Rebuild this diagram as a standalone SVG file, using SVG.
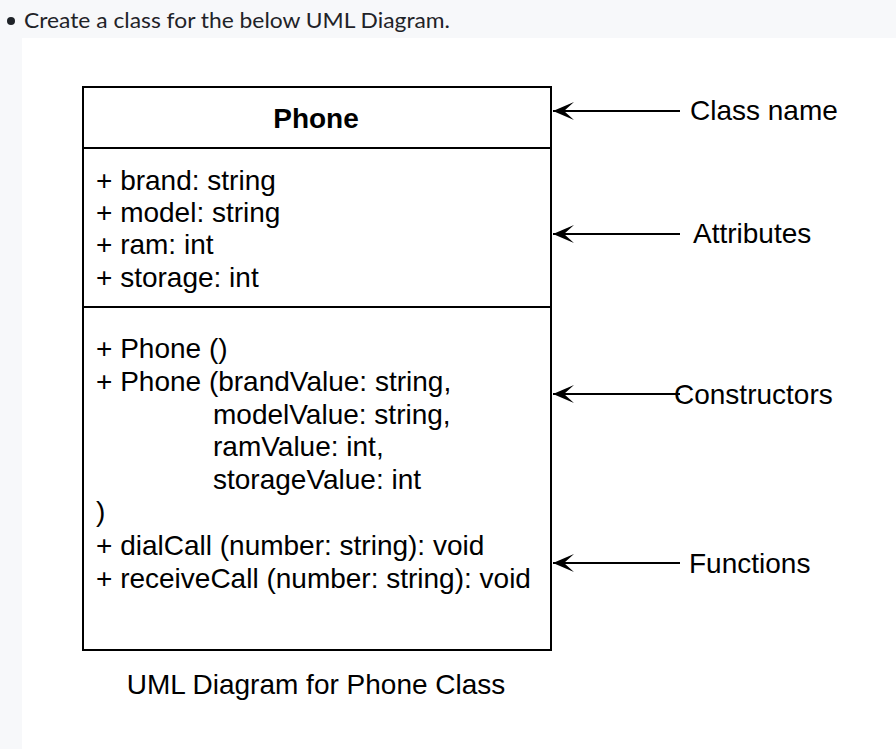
<svg xmlns="http://www.w3.org/2000/svg" width="896" height="749" viewBox="0 0 896 749">
<style>
.t{font-family:"Liberation Sans",Arial,sans-serif;font-size:28px;fill:#000}
.b{font-weight:bold;text-anchor:middle}
.ln{stroke:#000;stroke-width:2;fill:none}
.hd{font-family:Lato,"Noto Sans",sans-serif;font-size:21px;fill:#1f2328}
</style>
<defs>
<marker id="ah" markerWidth="22" markerHeight="20" refX="21" refY="10" orient="auto" markerUnits="userSpaceOnUse">
<path d="M21,10 L0,1 L10,10 L0,19 Z" fill="#000"/>
</marker>
</defs>
<rect x="0" y="0" width="896" height="749" fill="#f7f8fa"/>
<rect x="22" y="38" width="874" height="711" fill="#fff"/>
<circle cx="11" cy="21" r="4" fill="#1f2328"/>
<text class="hd" x="24" y="28" textLength="426" lengthAdjust="spacingAndGlyphs">Create a class for the below UML Diagram.</text>
<g id="phone">
<rect x="83" y="87" width="468" height="563" fill="#fff" stroke="#000" stroke-width="2"/>
<line class="ln" x1="83" y1="148" x2="551" y2="148"/>
<line class="ln" x1="83" y1="307" x2="551" y2="307"/>
<text class="t b" x="316" y="128">Phone</text>
<text class="t" x="96" y="190">+ brand: string</text>
<text class="t" x="96" y="222">+ model: string</text>
<text class="t" x="96" y="254">+ ram: int</text>
<text class="t" x="96" y="287">+ storage: int</text>
<text class="t" x="96" y="358">+ Phone ()</text>
<text class="t" x="96" y="391">+ Phone (brandValue: string,</text>
<text class="t" x="213" y="424">modelValue: string,</text>
<text class="t" x="213" y="456">ramValue: int,</text>
<text class="t" x="213" y="489">storageValue: int</text>
<text class="t" x="96" y="521">)</text>
<text class="t" x="96" y="555">+ dialCall (number: string): void</text>
<text class="t" x="96" y="588">+ receiveCall (number: string): void</text>
</g>
<g id="labels">
<text class="t" x="690" y="120">Class name</text>
<text class="t" x="693" y="243">Attributes</text>
<text class="t" x="674" y="404">Constructors</text>
<text class="t" x="689" y="573">Functions</text>
<text class="t" x="316" y="694" text-anchor="middle">UML Diagram for Phone Class</text>
</g>
<g id="connectors">
<path class="ln" d="M680,111 L553,111" marker-end="url(#ah)"/>
<path class="ln" d="M680,234 L553,234" marker-end="url(#ah)"/>
<path class="ln" d="M680,394 L553,394" marker-end="url(#ah)"/>
<path class="ln" d="M680,563 L553,563" marker-end="url(#ah)"/>
</g>
</svg>
